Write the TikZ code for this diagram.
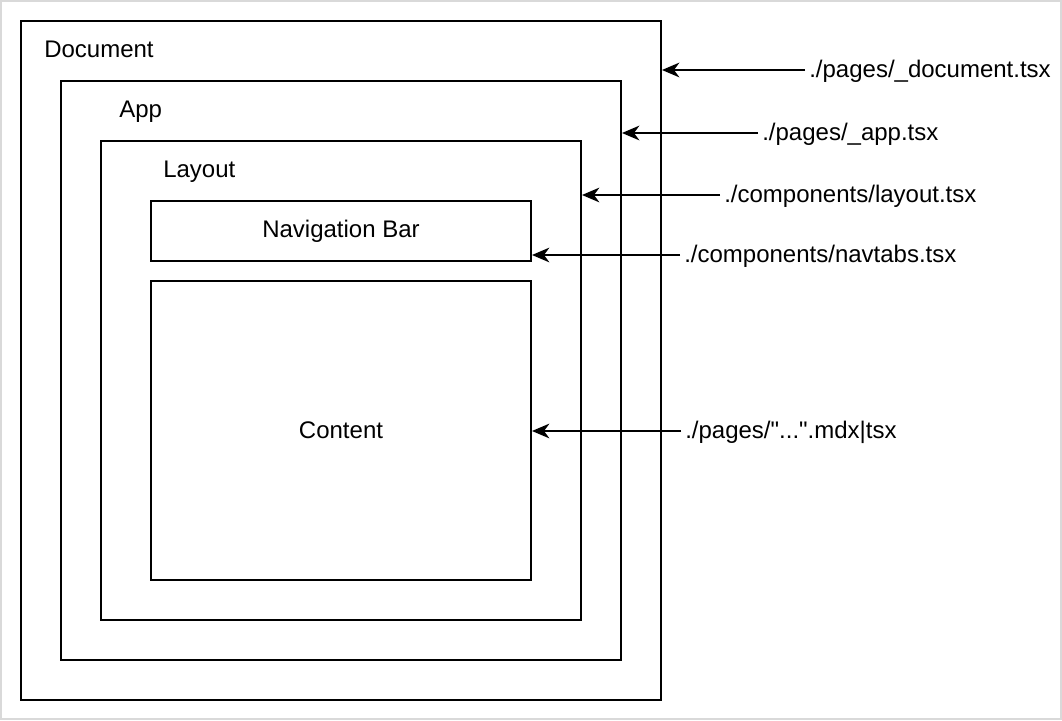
\documentclass[tikz,border=0pt]{standalone}
\usepackage{fontspec}
\setmainfont{Liberation Sans}[Ligatures=TeXOff]
\usetikzlibrary{arrows.meta}

\begin{document}
\begin{tikzpicture}[x=0.75pt, y=-0.75pt]
	\newcommand\TextSize{\fontsize{18}{22}\selectfont}
	\tikzstyle{arrow}=[draw, line width=1.5pt, -{Stealth[length=13pt, width=11pt, inset=4pt]}]
	\tikzstyle{frame}=[draw, line width=1.5pt, inner sep=0pt, font=\TextSize]
	\tikzstyle{caption}=[anchor=base west, inner sep=0pt, font=\TextSize]
	\tikzstyle{file}=[anchor=west, inner xsep=3pt, inner ysep=0pt, text height=13pt, text depth=2pt, font=\TextSize]

	\useasboundingbox (0,0) rectangle (1062,720);
	\draw [draw=black!15, line width=1.5pt] (1,1) rectangle (1061,719);

	% nested boxes
	\node [frame, minimum width=480pt, minimum height=509.25pt] (doc) at (341,360.5) {};
	\node [frame, minimum width=420pt, minimum height=434.25pt] (app) at (341,370.5) {};
	\node [frame, minimum width=360pt, minimum height=359.25pt] (layout) at (341,380.5) {};
	\node [frame, minimum width=285pt, minimum height=45pt] (navbar) at (341,231) {Navigation Bar};
	\node [frame, minimum width=285pt, minimum height=224.25pt] (content) at (341,430.5) {Content};

	\node [caption] (docText) at (44,58) {Document};
	\node [caption] (appText) at (119,118) {App};
	\node [caption] (layoutText) at (163,178) {Layout};

	% file names
	\node [file] (fDoc) at (805,70) {./pages/\_document.tsx};
	\node [file] (fApp) at (758,133) {./pages/\_app.tsx};
	\node [file] (fLayout) at (720,195) {./components/layout.tsx};
	\node [file] (fNav) at (680,255) {./components/navtabs.tsx};
	\node [file] (fContent) at (681,431) {./pages/"...".mdx|tsx};

\foreach \src/\dst in {fDoc/doc, fApp/app, fLayout/layout, fNav/navbar, fContent/content}
{
	\path [arrow] (\src.west) -- (\src.west -| \dst.east);
}

\end{tikzpicture}
\end{document}
